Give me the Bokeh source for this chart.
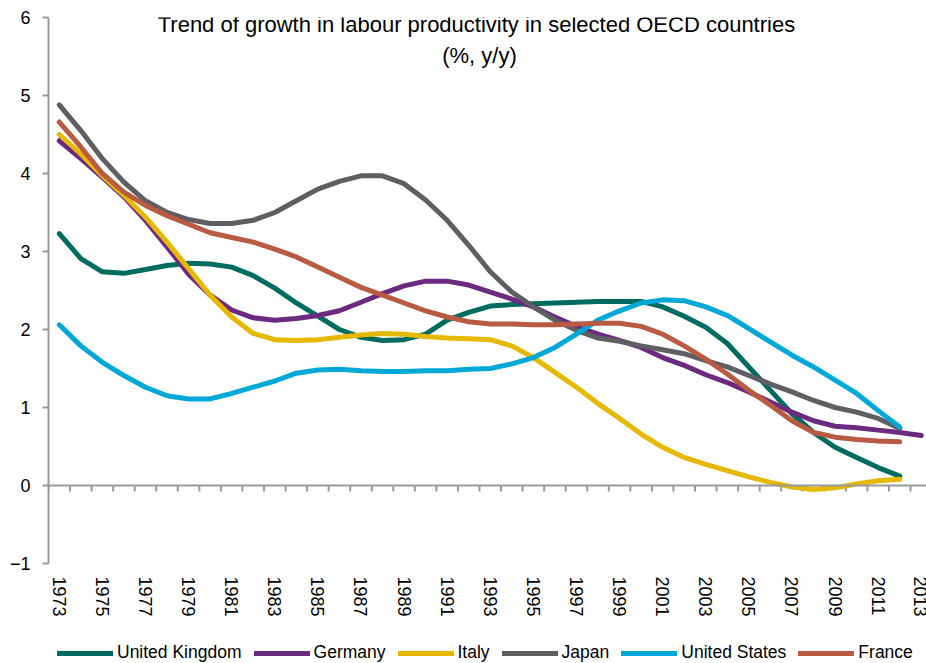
from bokeh.plotting import figure
from bokeh.models import Range1d, FixedTicker, Legend, LegendItem, Label, Span
from bokeh.layouts import column
from bokeh.embed import file_html
from bokeh.resources import INLINE

# ---- data ----
years = list(range(1973, 2013))
years_de = list(range(1973, 2014))

united_kingdom = [3.23, 2.91, 2.74, 2.72, 2.77, 2.82, 2.85, 2.84, 2.80, 2.69,
                  2.53, 2.34, 2.17, 2.00, 1.90, 1.86, 1.87, 1.94, 2.12, 2.22,
                  2.30, 2.32, 2.33, 2.34, 2.35, 2.36, 2.36, 2.36, 2.29, 2.17,
                  2.03, 1.82, 1.52, 1.22, 0.92, 0.68, 0.49, 0.36, 0.23, 0.12]
germany = [4.42, 4.19, 3.95, 3.70, 3.40, 3.06, 2.71, 2.44, 2.25, 2.15,
           2.12, 2.14, 2.18, 2.24, 2.35, 2.46, 2.56, 2.62, 2.62, 2.57,
           2.48, 2.39, 2.29, 2.16, 2.04, 1.94, 1.86, 1.77, 1.64, 1.54,
           1.42, 1.32, 1.20, 1.07, 0.94, 0.83, 0.76, 0.74, 0.71, 0.68, 0.64]
italy = [4.50, 4.25, 3.97, 3.72, 3.44, 3.12, 2.78, 2.44, 2.16, 1.95,
         1.87, 1.86, 1.87, 1.90, 1.93, 1.95, 1.94, 1.91, 1.89, 1.88,
         1.87, 1.79, 1.64, 1.45, 1.26, 1.05, 0.86, 0.66, 0.49, 0.36,
         0.27, 0.19, 0.11, 0.04, -0.02, -0.05, -0.03, 0.02, 0.06, 0.08]
japan = [4.88, 4.55, 4.19, 3.89, 3.65, 3.50, 3.41, 3.36, 3.36, 3.40,
         3.50, 3.65, 3.80, 3.90, 3.97, 3.97, 3.87, 3.66, 3.40, 3.08,
         2.74, 2.48, 2.29, 2.12, 1.99, 1.89, 1.85, 1.79, 1.74, 1.69,
         1.60, 1.52, 1.41, 1.30, 1.20, 1.09, 1.00, 0.94, 0.86, 0.73]
united_states = [2.06, 1.79, 1.58, 1.41, 1.26, 1.15, 1.11, 1.11, 1.18, 1.26,
                 1.34, 1.44, 1.48, 1.49, 1.47, 1.46, 1.46, 1.47, 1.47, 1.49,
                 1.50, 1.56, 1.64, 1.77, 1.94, 2.12, 2.24, 2.34, 2.38, 2.37,
                 2.29, 2.18, 2.01, 1.84, 1.67, 1.52, 1.35, 1.18, 0.96, 0.75]
france = [4.66, 4.34, 4.00, 3.76, 3.59, 3.46, 3.35, 3.24, 3.18, 3.12,
          3.03, 2.93, 2.80, 2.67, 2.54, 2.44, 2.34, 2.24, 2.16, 2.10,
          2.07, 2.07, 2.06, 2.06, 2.07, 2.08, 2.08, 2.04, 1.94, 1.79,
          1.62, 1.43, 1.22, 1.03, 0.83, 0.68, 0.62, 0.59, 0.57, 0.56]

series_names = ["United Kingdom", "Germany", "Italy", "Japan", "United States", "France"]
x_tick_labels = list(range(1973, 2014, 2))
y_ticks = list(range(-1, 7))
title_lines = ["Trend of growth in labour productivity  in selected OECD countries", "(%, y/y)"]

# ---- style ----
FONT = "Liberation Sans"
colors = ["#006B5F", "#6B2A80", "#E6B800", "#5E5E63", "#00A8D8", "#B95A43"]
AXIS_COLOR = "#999999"
PX_PER_UNIT = 78.0
all_series = [united_kingdom, germany, italy, japan, united_states, france]

p = figure(width=926, height=640, output_backend="svg", toolbar_location=None,
           x_range=Range1d(1972.5, 1972.5 + 878 / 21.55), y_range=Range1d(-1, 6),
           min_border_left=48, min_border_right=0, min_border_top=17,
           min_border_bottom=77)
p.outline_line_color = None
p.xgrid.visible = False
p.ygrid.visible = False
p.background_fill_color = "white"
p.border_fill_color = "white"

# left axis
ya = p.yaxis[0]
ya.ticker = FixedTicker(ticks=y_ticks)
ya.axis_line_color = AXIS_COLOR
ya.axis_line_width = 2
ya.major_tick_line_color = AXIS_COLOR
ya.major_tick_line_width = 2
ya.major_tick_out = 6
ya.major_tick_in = 0
ya.minor_tick_line_color = None
ya.major_label_standoff = 12
ya.major_label_text_font = FONT
ya.major_label_text_font_size = "18px"
ya.major_label_text_color = "black"

# bottom axis: labels only
xa = p.xaxis[0]
xa.ticker = FixedTicker(ticks=x_tick_labels)
xa.axis_line_color = None
xa.major_tick_line_color = None
xa.minor_tick_line_color = None
xa.major_tick_out = 0
xa.major_tick_in = 0
xa.major_label_standoff = 13
xa.major_label_orientation = "vertical"
xa.major_label_text_font = FONT
xa.major_label_text_font_size = "18px"
xa.major_label_text_color = "black"

# zero line with ticks between years
p.add_layout(Span(location=0, dimension="width", line_color=AXIS_COLOR, line_width=2))
bounds = [y - 0.5 for y in years_de] + [years_de[-1] + 0.5]
p.segment(x0=bounds, y0=[0] * len(bounds), x1=bounds, y1=[-6 / PX_PER_UNIT] * len(bounds),
          line_color=AXIS_COLOR, line_width=2)

# lines
for name, vals, col in zip(series_names, all_series, colors):
    xs = years_de if len(vals) == len(years_de) else years
    p.line(xs, vals, line_color=col, line_width=5, line_join="round", line_cap="round")

# title (inside plot area)
p.add_layout(Label(x=1992.5, y=5.91, text=title_lines[0], text_align="center",
                   text_baseline="alphabetic", text_font=FONT, text_font_size="22px",
                   text_color="black"))
p.add_layout(Label(x=1992.5, y=5.51, text=title_lines[1], text_align="center",
                   text_baseline="alphabetic", text_font=FONT, text_font_size="22px",
                   text_color="black"))

# legend strip (separate figure; its own copies of the series lie outside its view)
pl = figure(width=926, height=23, output_backend="svg", toolbar_location=None,
            x_range=Range1d(0, 1), y_range=Range1d(100, 101),
            x_axis_location=None, y_axis_location=None,
            min_border_left=0, min_border_right=0, min_border_top=0, min_border_bottom=0)
pl.outline_line_color = None
pl.xgrid.visible = False
pl.ygrid.visible = False
leg_renderers = []
for name, vals, col in zip(series_names, all_series, colors):
    xs = years_de if len(vals) == len(years_de) else years
    leg_renderers.append(pl.line(xs, vals, line_color=col, line_width=5, line_cap="round"))

legend = Legend(items=[LegendItem(label=n, renderers=[r]) for n, r in zip(series_names, leg_renderers)],
                orientation="horizontal", location=(9, 0),
                glyph_width=56, glyph_height=20, label_standoff=4, spacing=12,
                padding=0, margin=0, border_line_color=None, background_fill_alpha=0,
                label_text_font=FONT, label_text_font_size="17.5px", label_text_color="black")
pl.add_layout(legend)

layout = column(p, pl, spacing=0)
open("out.html", "w").write(file_html(layout, INLINE))
